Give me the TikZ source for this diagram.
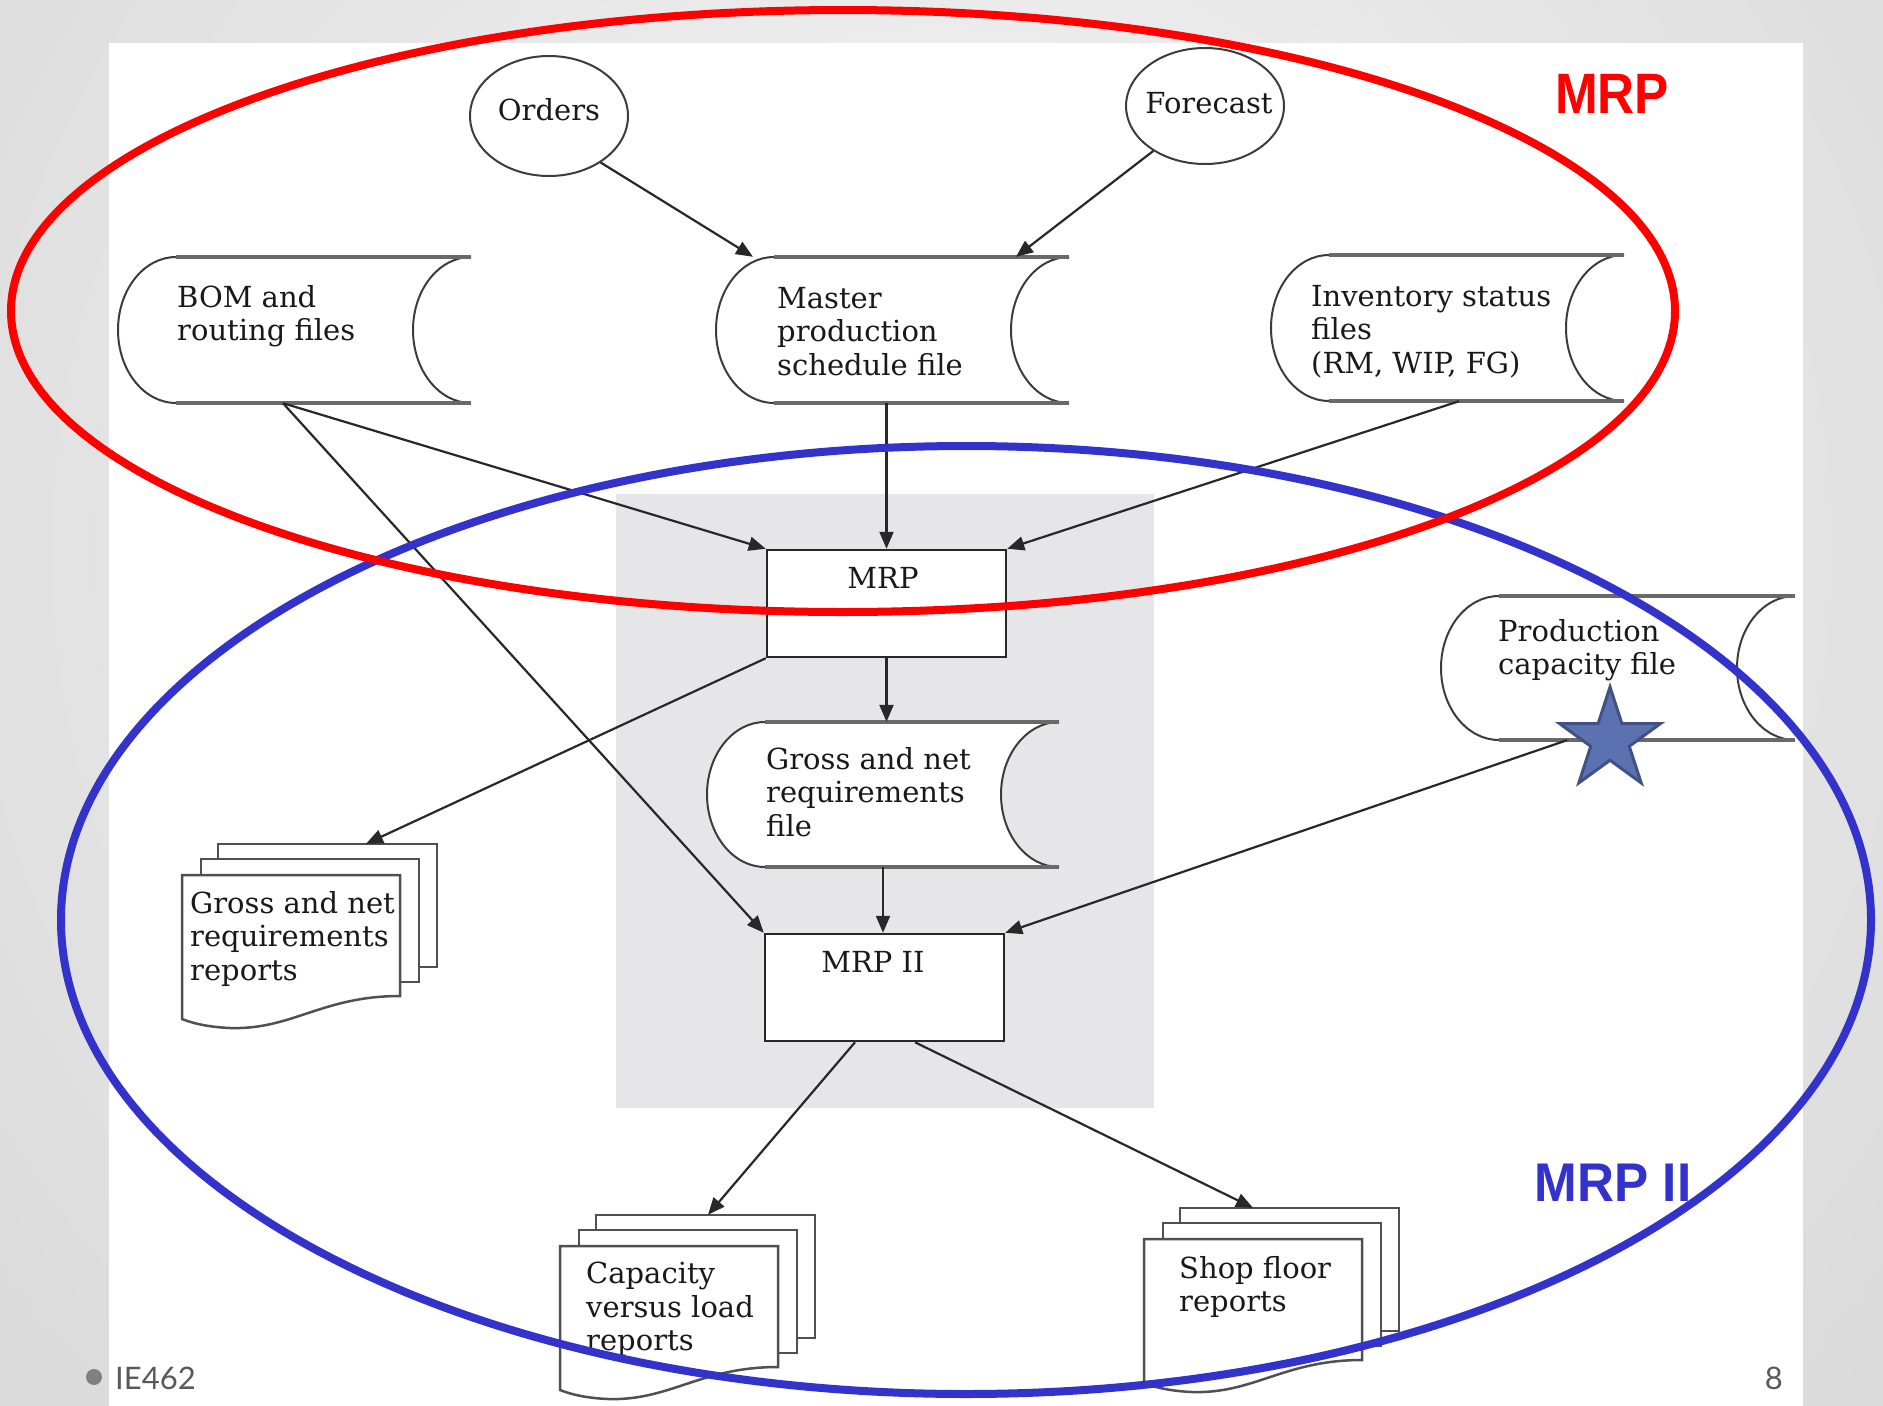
\documentclass[tikz,border=0pt]{standalone}
\usepackage{fontspec}
\usepackage{graphicx}
\setmainfont{DejaVu Serif}
\newfontfamily\labelfont{Liberation Sans}
\newfontfamily\footfont{Lato}
\usetikzlibrary{shapes.geometric,arrows.meta,fit}

\definecolor{mrpred}{RGB}{255,0,0}
\definecolor{mrpblue}{RGB}{51,51,204}
\definecolor{panelgray}{RGB}{230,230,232}
\definecolor{conncol}{RGB}{40,40,40}
\definecolor{curvecol}{RGB}{60,60,60}
\definecolor{edgecol}{RGB}{105,105,105}
\definecolor{doccol}{RGB}{80,80,80}
\definecolor{starfill}{RGB}{92,114,176}
\definecolor{stardraw}{RGB}{64,82,133}
\definecolor{foottext}{RGB}{89,89,89}
\definecolor{footdot}{RGB}{128,128,128}
\definecolor{bginner}{RGB}{248,248,248}
\definecolor{bgouter}{RGB}{218,218,218}

\newcommand\dfont{\fontsize{29pt}{33.5pt}\selectfont}

% stored-data (file) shape: name, x0, y0, x1, y1
\newcommand\storedfile[5]{%
  \coordinate (#1-nw) at (#2,#3);
  \coordinate (#1-se) at (#4,#5);
  \node[fit=(#1-nw)(#1-se), inner sep=0pt] (#1) {};
  \pgfmathsetmacro\fhh{(#5-#3)/2}%
  \filldraw[filecurve] (#2+58,#5) arc[start angle=90, end angle=270, x radius=58, y radius=\fhh]
    -- (#4,#3) arc[start angle=270, end angle=90, x radius=58, y radius=\fhh] -- cycle;
  \draw[fileedge] (#2+58,#3) -- (#4,#3);
  \draw[fileedge] (#2+58,#5) -- (#4,#5);
}

% stack of report pages: name, x0, y0 (top-left of the front page)
\newcommand\docstack[3]{%
  \filldraw[docpage] (#2+36,#3-31) rectangle (#2+255,#3+92);
  \filldraw[docpage] (#2+19,#3-16) rectangle (#2+237,#3+107);
  \filldraw[docpage] (#2,#3) -- (#2+218,#3) -- (#2+218,#3+121)
     .. controls (#2+140,#3+121) and (#2+110,#3+155) .. (#2+48,#3+153)
     .. controls (#2+25,#3+152) and (#2+10,#3+148) .. (#2,#3+144) -- cycle;
  \coordinate (#1-nw) at (#2,#3-31);
  \coordinate (#1-se) at (#2+255,#3+153);
  \node[fit=(#1-nw)(#1-se), inner sep=0pt] (#1) {};
}

\begin{document}
\begin{tikzpicture}[x=1pt,y=-1pt,
  conn/.style={draw=conncol, line width=2.2pt, -{Triangle[length=17pt,width=14pt]}},
  filecurve/.style={fill=white, draw=curvecol, line width=2pt},
  fileedge/.style={draw=edgecol, line width=4pt},
  docpage/.style={fill=white, draw=doccol, line width=2.5pt},
  procbox/.style={draw=conncol, fill=white, line width=2.5pt, minimum width=239pt, minimum height=107pt, inner sep=0pt},
  oval/.style={ellipse, draw=curvecol, fill=white, line width=2pt, inner sep=0pt},
  dtext/.style={font=\dfont, align=left, inner sep=0pt, anchor=north west, text=black!90},
  ctext/.style={font=\dfont, inner sep=0pt, text=black!90},
  ring/.style={line width=8pt},
]
\useasboundingbox (0,0) rectangle (1883,1406);
\shade[inner color=bginner, outer color=bgouter] (-300,-700) rectangle (2183,1800);
\fill[white] (109,43) rectangle (1803,1406);
\fill[panelgray] (616,494) rectangle (1154,1108);

% inputs
\node[oval, minimum width=158pt, minimum height=120pt] (orders) at (549,116) {};
\node[ctext] (orders-t) at (549,110) {Orders};
\node[oval, minimum width=158pt, minimum height=116pt] (forecast) at (1205,106) {};
\node[ctext] (forecast-t) at (1209,103) {Forecast};

% files
\storedfile{bom}{118}{257}{471}{403}
\node[dtext] (bom-t) at (177,285) {BOM and\\routing files};
\storedfile{master}{716}{257}{1069}{403}
\node[dtext] (master-t) at (777,287) {Master\\production\\schedule file};
\storedfile{inv}{1271}{255}{1624}{401}
\node[dtext] (inv-t) at (1311,285) {Inventory status\\files\\(RM, WIP, FG)};
\storedfile{pcap}{1441}{596}{1795}{740}
\node[dtext] (pcap-t) at (1498,619) {Production\\capacity file};
\storedfile{gfile}{707}{722}{1059}{867}
\node[dtext] (gfile-t) at (766,747) {Gross and net\\requirements\\file};

% processes
\node[procbox] (mrp) at (886.5,603.5) {};
\node[ctext] (mrp-t) at (883,578) {MRP};
\node[procbox] (mrp2) at (884.5,987.5) {};
\node[ctext] (mrp2-t) at (873,962) {MRP II};

% reports
\docstack{gnr}{182}{875}
\node[dtext] (gnr-t) at (190,891) {Gross and net\\requirements\\reports};
\docstack{cap}{560}{1246}
\node[dtext] (cap-t) at (586,1262) {Capacity\\versus load\\reports};
\docstack{shop}{1144}{1239}
\node[dtext] (shop-t) at (1179,1256) {Shop floor\\reports};

% connectors
\draw[conn] (orders.-42) -- ([xshift=-139.5pt]master.north);
\draw[conn] (forecast.-139) -- ([xshift=123.5pt]master.north);
\draw[conn] ([xshift=-11.5pt]bom.south) -- (mrp.north west);
\draw[conn] ([xshift=-11.5pt]bom.south) -- (mrp2.north west);
\draw[conn] (mrp.north |- master.south) -- (mrp.north);
\draw[conn] ([xshift=11.5pt]inv.south) -- (mrp.north east);
\draw[conn] (mrp.south west) -- ([xshift=56.5pt]gnr.north);
\draw[conn] (mrp.south) -- (mrp.south |- gfile.north);
\draw[conn] (gfile.south) -- (gfile.south |- mrp2.north);
\draw[conn] ([xshift=-51pt]pcap.south) -- (mrp2.north east);
\draw[conn] ([xshift=-29.5pt]mrp2.south) -- ([xshift=20.5pt]cap.north);
\draw[conn] ([xshift=30.5pt]mrp2.south) -- ([xshift=-18.5pt]shop.north);

% star
\node[star, star points=5, star point ratio=2.618, minimum size=106pt, inner sep=0pt,
      fill=starfill, draw=stardraw, line width=3pt] (star1) at (1610,740) {};

% scope rings
\draw[ring, mrpblue] (966,920) ellipse [x radius=905, y radius=474];
\draw[ring, mrpred] (843,311) ellipse [x radius=832, y radius=301];

% ring labels
\node[inner sep=0pt, text=mrpred, font=\labelfont\bfseries\fontsize{57pt}{60pt}\selectfont] (mrp-lbl) at (1612,93.5) {\scalebox{0.9}[1]{MRP}};
\node[inner sep=0pt, text=mrpblue, font=\labelfont\bfseries\fontsize{54.5pt}{58pt}\selectfont] (mrp2-lbl) at (1613,1182.5) {\scalebox{0.94}[1]{MRP II}};

% footer
\node[circle, fill=footdot, minimum size=16pt, inner sep=0pt] (dot) at (94,1377) {};
\node[anchor=base west, inner sep=0pt, text=foottext, font=\footfont\fontsize{31pt}{34pt}\selectfont] (course) at (115,1389) {IE462};
\node[anchor=base east, inner sep=0pt, text=foottext, font=\footfont\fontsize{31pt}{34pt}\selectfont] (pageno) at (1783,1389) {8};
\end{tikzpicture}
\end{document}
